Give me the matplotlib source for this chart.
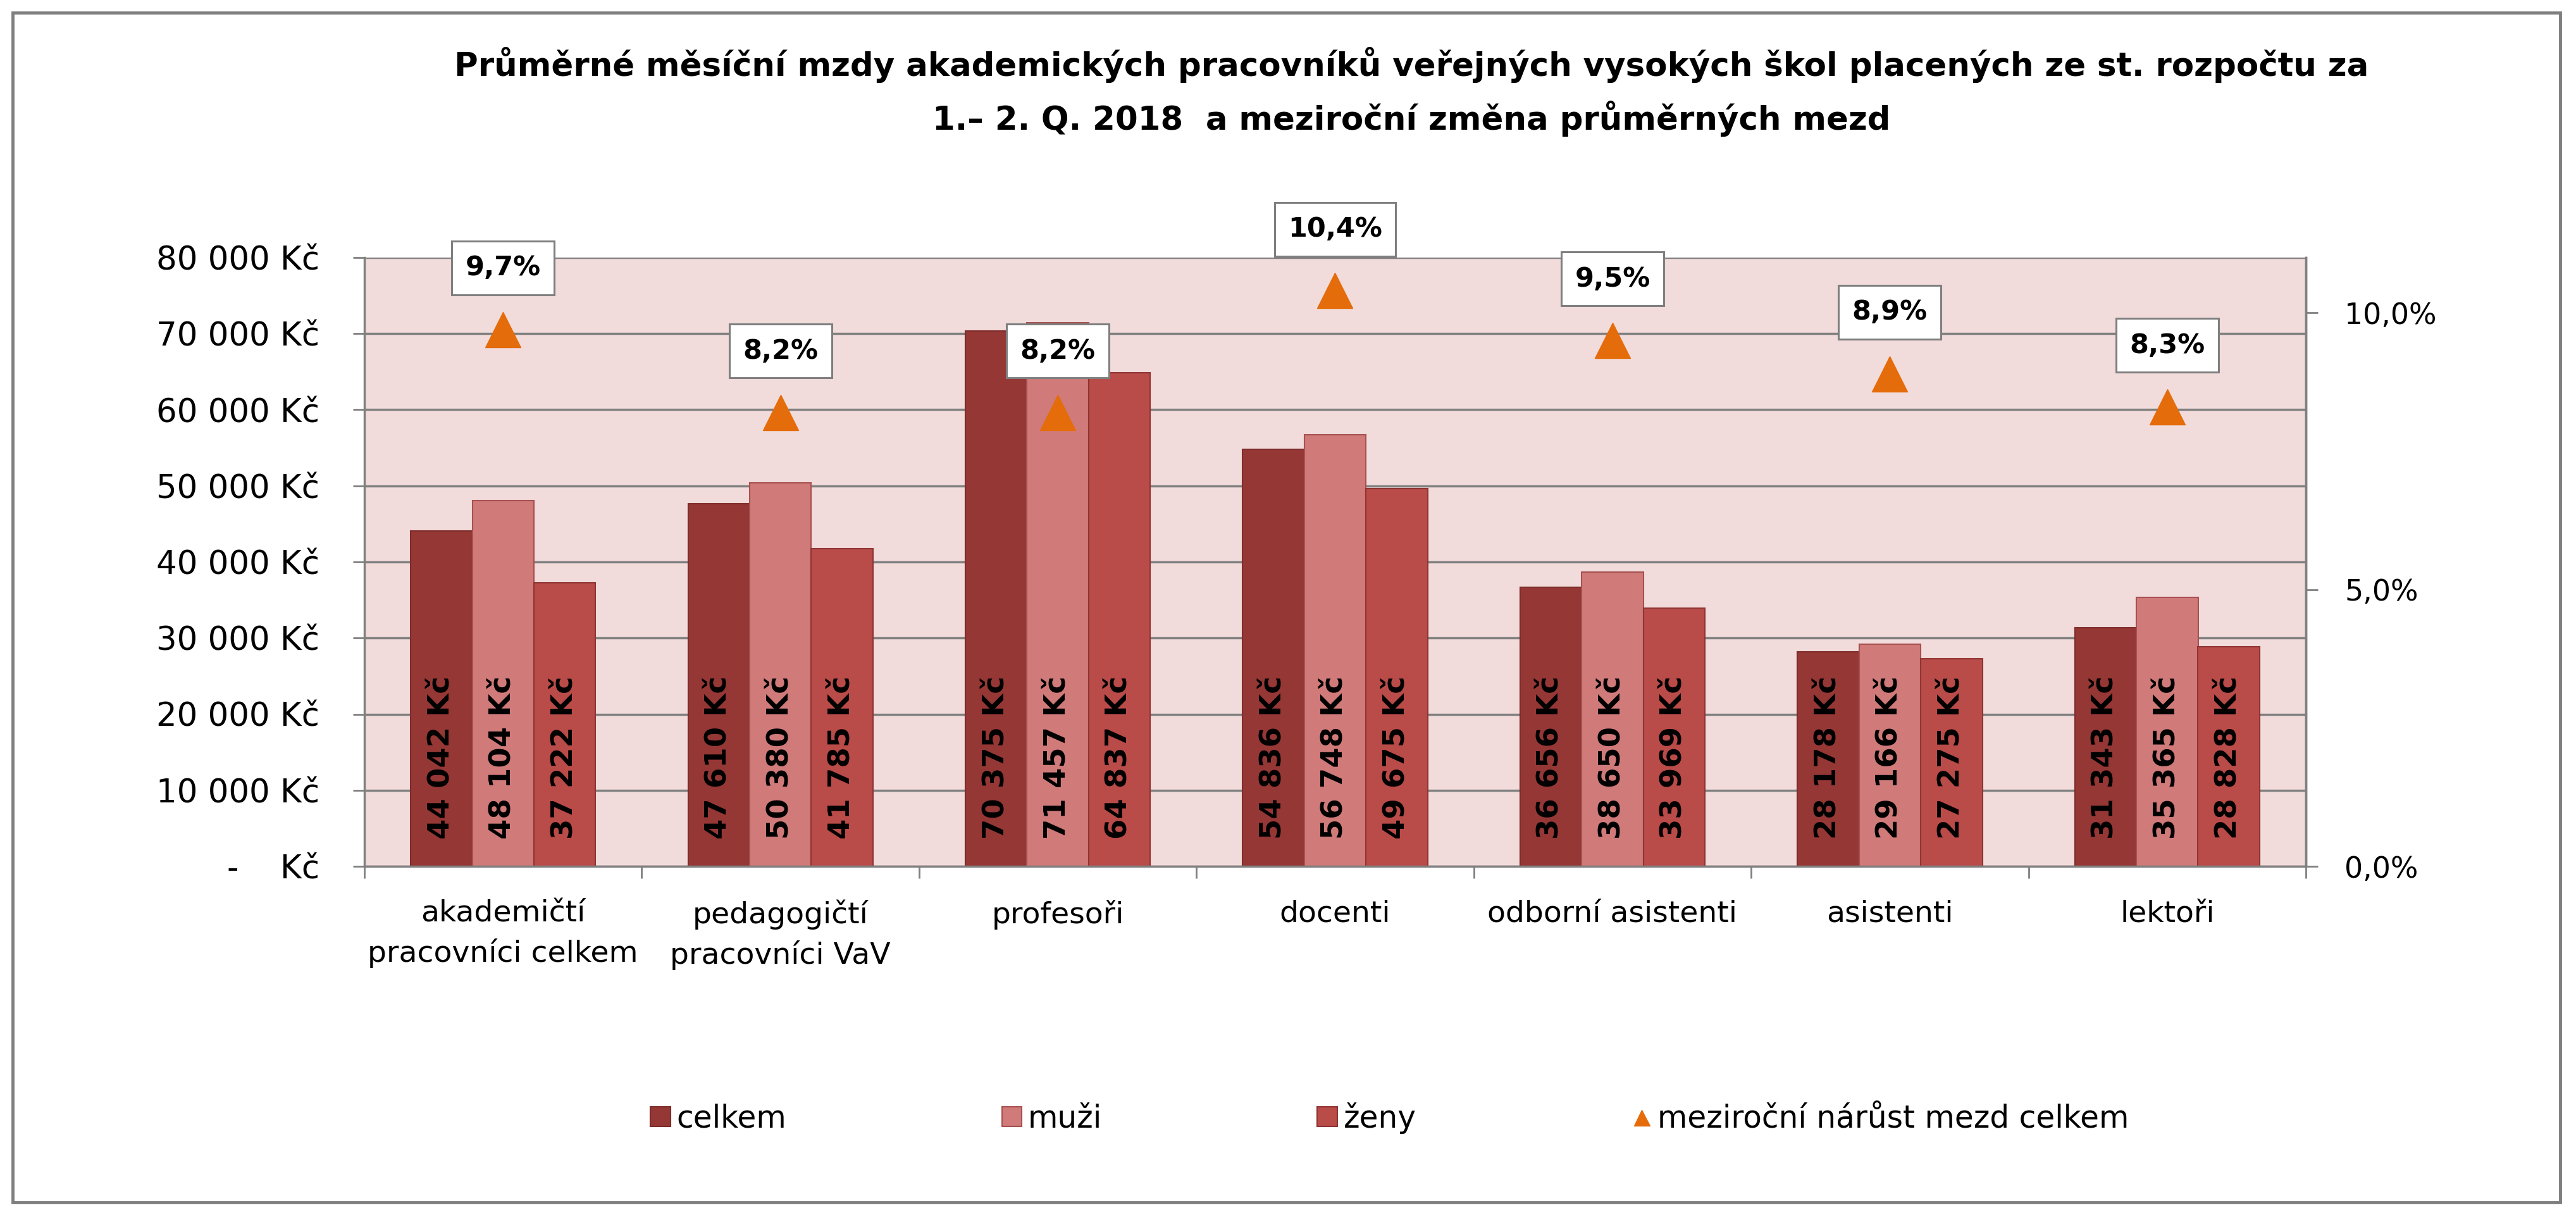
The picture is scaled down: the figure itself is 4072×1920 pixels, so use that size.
import numpy as np
import matplotlib
matplotlib.use("Agg")
import matplotlib.pyplot as plt
from matplotlib.patches import Rectangle
from matplotlib.lines import Line2D

plt.rcParams['font.family'] = ['DejaVu Sans']

# data
kategorie = ["akademičtí\npracovníci celkem", "pedagogičtí\npracovníci VaV", "profesoři",
             "docenti", "odborní asistenti", "asistenti", "lektoři"]
celkem = [44042, 47610, 70375, 54836, 36656, 28178, 31343]
muzi = [48104, 50380, 71457, 56748, 38650, 29166, 35365]
zeny = [37222, 41785, 64837, 49675, 33969, 27275, 28828]
narust = [9.7, 8.2, 8.2, 10.4, 9.5, 8.9, 8.3]

serie = ["celkem", "muži", "ženy"]
barvy = ["#953735", "#D07A7A", "#B94B48"]
hrany = ["#7E2D2B", "#A85050", "#8E3534"]

W, H = 4072, 1920
fig = plt.figure(figsize=(W / 100, H / 100), dpi=100)
ax = fig.add_axes([576 / W, 1 - 1369 / H, (3645 - 576) / W, (1369 - 407) / H])

x = np.arange(len(kategorie))
w = 1 / 4.5
grey = "#808080"

ax.set_facecolor("#F2DCDB")
ax.set_xlim(-0.5, len(kategorie) - 0.5)
ax.set_ylim(0, 80000)
ax.set_yticks(np.arange(0, 80001, 10000))
ax.yaxis.grid(True, color=grey, lw=2.5)
ax.set_axisbelow(True)

def kc(v):
    return f"{v:,}".replace(",", " ") + " Kč"

ax.set_yticklabels(["-    Kč" if v == 0 else kc(int(v)) for v in ax.get_yticks()])

for i, (vals, lab) in enumerate(zip([celkem, muzi, zeny], serie)):
    pos = x + (i - 1) * w
    ax.bar(pos, vals, width=w, color=barvy[i], edgecolor=hrany[i], lw=1.5, label=lab)
    for px, v in zip(pos, vals):
        ax.annotate(kc(v), (px, 0), xytext=(0, 31), textcoords="offset points",
                    rotation=90, ha="center", va="bottom", fontsize=33.5,
                    fontweight="bold", color="black")

ax.set_xticks(x)
ax.set_xticklabels(kategorie)
ax.set_xticks(np.arange(-0.5, len(kategorie)), minor=True)
ax.tick_params(axis="x", which="major", length=0, pad=38, labelsize=34)
ax.tick_params(axis="x", which="minor", length=14, width=2, color=grey)
ax.tick_params(axis="y", length=13, width=2, color=grey, pad=38, labelsize=37)
for t in ax.get_xticklabels():
    t.set_linespacing(1.45)

ax.spines["top"].set_visible(False)
for s in ["left", "bottom", "right"]:
    ax.spines[s].set_color(grey)
    ax.spines[s].set_linewidth(2.5)

ax2 = ax.twinx()
ax2.set_ylim(0, 11)
ax2.set_yticks([0, 5, 10])
ax2.set_yticklabels(["0,0%", "5,0%", "10,0%"])
ax2.tick_params(axis="y", length=14, width=2, color=grey, pad=30, labelsize=33)
for s in ["top", "left", "bottom"]:
    ax2.spines[s].set_visible(False)
ax2.spines["right"].set_color(grey)
ax2.spines["right"].set_linewidth(2.5)

ax2.plot(x, narust, ls="none", marker="^", ms=41, color="#E46C0A",
         label="meziroční nárůst mezd celkem")
for px, g in zip(x, narust):
    ax2.annotate(f"{g:.1f}%".replace(".", ","), (px, g), xytext=(0, 70),
                 textcoords="offset points", ha="center", va="center",
                 fontsize=31, fontweight="bold", color="black",
                 bbox=dict(boxstyle="square,pad=0.5", fc="white", ec="#7F7F7F", lw=2.2))

# title
fig.text(0.548, 1 - 120 / H, "Průměrné měsíční mzdy akademických pracovníků veřejných vysokých škol placených ze st. rozpočtu za",
         ha="center", va="baseline", fontsize=37, fontweight="bold")
fig.text(0.548, 1 - 205 / H, "1.– 2. Q. 2018  a meziroční změna průměrných mezd",
         ha="center", va="baseline", fontsize=37, fontweight="bold")

# legend
h1, l1 = ax.get_legend_handles_labels()
h2 = [Line2D([], [], ls="none", marker="^", ms=18, color="#E46C0A")]
l2 = ["meziroční nárůst mezd celkem"]
fig.legend(h1 + h2, l1 + l2, loc="center", bbox_to_anchor=(2197 / W, 1 - 1767 / H),
           ncol=4, frameon=False, fontsize=35, columnspacing=7.0,
           handlelength=0.65, handleheight=0.6, handletextpad=0.2)

# outer frame
fig.add_artist(Rectangle((20 / W, 1 - 1900 / H), (4047 - 20) / W, (1900 - 20) / H,
                         transform=fig.transFigure, fill=False, ec="#7F7F7F", lw=3.5))

fig.savefig("out.png", dpi=100, facecolor="white")
